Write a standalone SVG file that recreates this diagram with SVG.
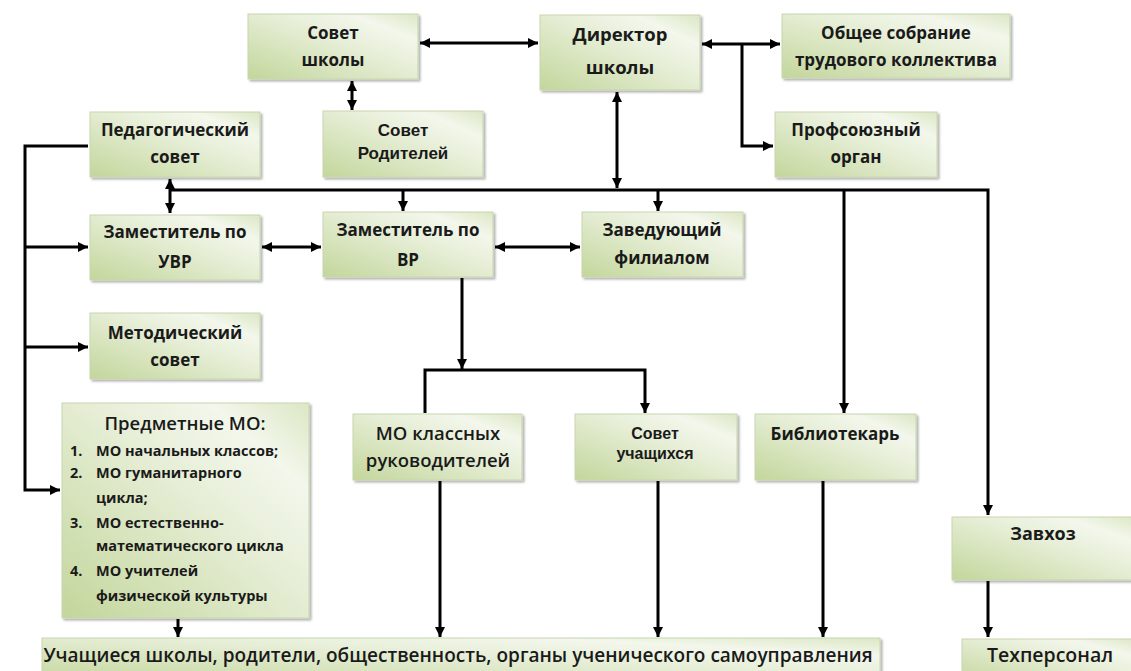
<svg xmlns="http://www.w3.org/2000/svg" width="1131" height="671" viewBox="0 0 1131 671">
<defs>
<linearGradient id="g" x1="0" y1="1" x2="1" y2="0">
<stop offset="0" stop-color="#c3d69b"/>
<stop offset="0.55" stop-color="#e6eed6"/>
<stop offset="0.8" stop-color="#f3f7ec"/>
<stop offset="1" stop-color="#dbe7c4"/>
</linearGradient>
<filter id="sh" x="-5%" y="-5%" width="115%" height="120%">
<feDropShadow dx="2" dy="2" stdDeviation="1.2" flood-color="#000" flood-opacity="0.3"/>
</filter>
<marker id="ah" viewBox="0 0 10 10" refX="10" refY="5" markerWidth="10" markerHeight="10" markerUnits="userSpaceOnUse" orient="auto-start-reverse">
<path d="M0,0 L10,5 L0,10 z" fill="#000"/>
</marker>
</defs>
<style>
.b{fill:url(#g);stroke:#c8d6ae;stroke-width:1;filter:url(#sh)}
.t{font-family:"Open Sans","DejaVu Sans",sans-serif;font-weight:700;font-size:17px;fill:#1a1a1a;text-anchor:middle}
.a{font-family:"Liberation Sans",Arial,sans-serif;font-weight:700;font-size:16px;fill:#1a1a1a;text-anchor:middle}
.s{font-family:"Open Sans","DejaVu Sans",sans-serif;font-weight:700;font-size:14.5px;fill:#1a1a1a}
.c{fill:none;stroke:#000;stroke-width:3}
.e{marker-end:url(#ah)}
.d{marker-start:url(#ah);marker-end:url(#ah)}
</style>
<rect width="1131" height="671" fill="#fff"/>

<g id="connectors">
<line class="c d" x1="420" y1="43" x2="538" y2="43"/>
<line class="c d" x1="352" y1="81" x2="352" y2="110"/>
<line class="c d" x1="702" y1="44" x2="780" y2="44"/>
<polyline class="c e" points="742,44 742,146 773,146"/>
<line class="c d" x1="617" y1="92" x2="617" y2="188"/>
<polyline class="c e" points="170,190 988,190 988,515"/>
<line class="c d" x1="170" y1="179" x2="170" y2="213"/>
<line class="c e" x1="403" y1="190" x2="403" y2="211"/>
<line class="c e" x1="658" y1="190" x2="658" y2="211"/>
<line class="c e" x1="844" y1="190" x2="844" y2="413"/>
<line class="c d" x1="262" y1="247" x2="321" y2="247"/>
<line class="c d" x1="495" y1="247" x2="580" y2="247"/>
<polyline class="c e" points="88,146 25,146 25,490 60,490"/>
<line class="c e" x1="25" y1="247" x2="88" y2="247"/>
<line class="c e" x1="25" y1="347" x2="88" y2="347"/>
<line class="c e" x1="462" y1="278" x2="462" y2="369"/>
<polyline class="c e" points="425,413 425,370 645,370 645,413"/>
<line class="c e" x1="440" y1="481" x2="440" y2="637"/>
<line class="c e" x1="658" y1="481" x2="658" y2="637"/>
<line class="c e" x1="823" y1="481" x2="823" y2="637"/>
<line class="c e" x1="178" y1="619" x2="178" y2="637"/>
<line class="c e" x1="988" y1="581" x2="988" y2="637"/>
</g>

<g id="sovet-shkoly"><rect class="b" x="248" y="14" width="170" height="65"/>
<text class="t" x="333" y="39">Совет</text><text class="t" x="333" y="66">школы</text></g>

<g id="direktor"><rect class="b" x="540" y="15" width="160" height="75"/>
<text class="t" x="620" y="41" style="font-size:18.5px">Директор</text><text class="t" x="620" y="74" style="font-size:18.5px">школы</text></g>

<g id="obshchee-sobranie"><rect class="b" x="782" y="14" width="228" height="64"/>
<text class="t" x="896" y="39">Общее собрание</text><text class="t" x="896" y="66">трудового коллектива</text></g>

<g id="ped-sovet"><rect class="b" x="90" y="112" width="170" height="65"/>
<text class="t" x="175" y="136">Педагогический</text><text class="t" x="175" y="163">совет</text></g>

<g id="sovet-roditeley"><rect class="b" x="323" y="111" width="160" height="66"/>
<text class="a" x="403" y="136" style="font-size:17px">Совет</text><text class="a" x="403" y="159" style="font-size:17px">Родителей</text></g>

<g id="profsoyuz"><rect class="b" x="775" y="112" width="162" height="65"/>
<text class="t" x="856" y="136">Профсоюзный</text><text class="t" x="856" y="163">орган</text></g>

<g id="zam-uvr"><rect class="b" x="90" y="215" width="170" height="65"/>
<text class="t" x="175" y="238">Заместитель по</text><text class="t" x="175" y="268">УВР</text></g>

<g id="zam-vr"><rect class="b" x="323" y="212" width="170" height="65"/>
<text class="t" x="408" y="236">Заместитель по</text><text class="t" x="408" y="266">ВР</text></g>

<g id="zaveduyushchiy"><rect class="b" x="582" y="212" width="161" height="65"/>
<text class="t" x="662" y="236">Заведующий</text><text class="t" x="662" y="264">филиалом</text></g>

<g id="metod-sovet"><rect class="b" x="90" y="313" width="170" height="66"/>
<text class="t" x="175" y="339">Методический</text><text class="t" x="175" y="366">совет</text></g>

<g id="predmetnye-mo"><rect class="b" x="62" y="403" width="247" height="215"/>
<text class="t" x="185" y="430" style="font-size:18.5px;font-weight:600">Предметные МО:</text>
<text class="s" x="70" y="456">1.</text><text class="s" x="96" y="456">МО начальных  классов;</text>
<text class="s" x="70" y="478">2.</text><text class="s" x="96" y="478">МО гуманитарного</text>
<text class="s" x="96" y="503">цикла;</text>
<text class="s" x="70" y="528">3.</text><text class="s" x="96" y="528">МО естественно-</text>
<text class="s" x="96" y="551">математического цикла</text>
<text class="s" x="70" y="576">4.</text><text class="s" x="96" y="576">МО учителей</text>
<text class="s" x="96" y="601">физической культуры</text></g>

<g id="mo-klassnykh"><rect class="b" x="353" y="414" width="169" height="66"/>
<text class="t" x="438" y="440" style="font-size:18.5px;font-weight:600">МО классных</text><text class="t" x="438" y="467" style="font-size:18.5px;font-weight:600">руководителей</text></g>

<g id="sovet-uchashchikhsya"><rect class="b" x="575" y="414" width="162" height="66"/>
<text class="a" x="655" y="439">Совет</text><text class="a" x="655" y="459">учащихся</text></g>

<g id="bibliotekar"><rect class="b" x="755" y="414" width="161" height="66"/>
<text class="t" x="835" y="440">Библиотекарь</text></g>

<g id="zavkhoz"><rect class="b" x="952" y="517" width="185" height="63"/>
<text class="t" x="1043" y="540" style="font-size:18px">Завхоз</text></g>

<g id="uchashchiesya"><rect class="b" x="42" y="638" width="838" height="45"/>
<text class="t" x="458" y="662" style="font-size:19px;font-weight:600">Учащиеся школы, родители, общественность, органы ученического самоуправления</text></g>

<g id="tekhpersonal"><rect class="b" x="962" y="639" width="176" height="45"/>
<text class="t" x="1050" y="662" style="font-size:19.5px;font-weight:600">Техперсонал</text></g>
</svg>
